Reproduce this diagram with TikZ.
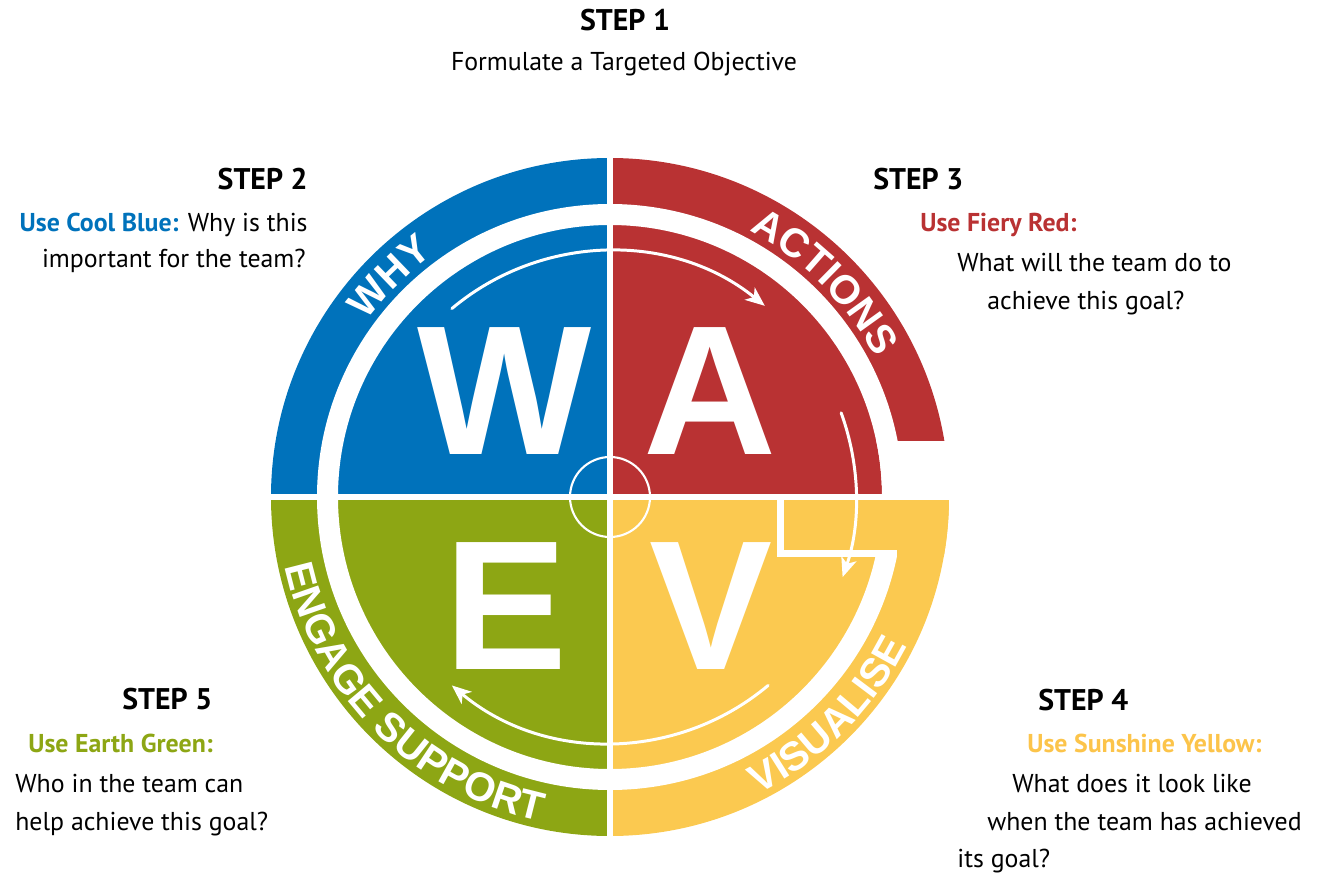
\documentclass[tikz,border=0pt]{standalone}
\usepackage{fontspec}
\setmainfont{PT Sans}
\newfontfamily\arialfont{Liberation Sans}
\usetikzlibrary{arrows.meta,decorations.text}
\definecolor{coolblue}{RGB}{0,114,187}
\definecolor{fieryred}{RGB}{185,50,51}
\definecolor{earthgreen}{RGB}{141,166,20}
\definecolor{sunyellow}{RGB}{251,201,80}
\definecolor{sunyellowtext}{RGB}{252,196,74}
\begin{document}
\begin{tikzpicture}[x=0.02cm,y=0.02cm]
	\tikzset{steptitle/.style = {anchor=base west, inner sep=0pt, font=\fontsize{17}{17}\selectfont\bfseries},
		steptext/.style = {anchor=base west, inner sep=0pt, font=\fontsize{14.7}{15}\selectfont},
		bigletter/.style = {text=white, inner sep=0pt, font=\arialfont\bfseries\fontsize{105}{105}\selectfont},
		ringlabel/.style = {decorate, decoration={text along path, text align=center, text color=white,
			text={|\arialfont\bfseries\fontsize{23}{23}\selectfont|#1}}},
		turn/.style = {draw=white, line width=1.7pt, line cap=round, -{Stealth[length=11pt,width=9pt,inset=3pt]}}}

	\useasboundingbox (-610,-379) rectangle (712,497);

	\fill[coolblue] (0,0) -- (90:339) arc[start angle=90, end angle=180, radius=339] -- cycle;
	\fill[earthgreen] (0,0) -- (180:339) arc[start angle=180, end angle=270, radius=339] -- cycle;
	\fill[sunyellow] (0,0) -- (270:339) arc[start angle=270, end angle=360, radius=339] -- cycle;
	\begin{scope}
		\clip (0,57) rectangle (350,350);
		\fill[fieryred] (0,0) -- (0:339) arc[start angle=0, end angle=90, radius=339] -- cycle;
	\end{scope}
	\fill[fieryred] (0,0) -- (0:272) arc[start angle=0, end angle=90, radius=272] -- cycle;

	\fill[white, even odd rule] (0,0) circle[radius=293] (0,0) circle[radius=272];
	\begin{scope}
		\clip (0,0) circle[radius=339];
		\fill[sunyellow] (0,-3) rectangle (350,-60);
	\end{scope}

	\draw[white, line width=3.2pt] (0,345) -- (0,-345);
	\draw[white, line width=3.2pt] (-345,0) -- (345,0);
	\draw[white, line width=4pt, line join=miter] (170.5,0) -- (170.5,-56.5) -- (287,-56.5);
	\draw[white, line width=1.2pt] (0,0) circle[radius=40];

	\node[bigletter] (W) at (-105,105.5) {W};
	\node[bigletter] (A) at (100,105.5) {A};
	\node[bigletter] (E) at (-103.5,-109) {E};
	\node[bigletter] (V) at (101.5,-109) {V};

	\draw[turn] (130:246) arc[start angle=130, end angle=51, radius=246];
	\draw[turn] (20:246) arc[start angle=20, end angle=-19, radius=246];
	\draw[turn] (-50:246) arc[start angle=-50, end angle=-130, radius=246];

	\path[ringlabel=WHY] (180:300) arc[start angle=180, end angle=90, radius=300];
	\path[ringlabel=ACTIONS] (90:300) arc[start angle=90, end angle=0, radius=300];
	\path[ringlabel=VISUALISE] (270:332) arc[start angle=270, end angle=360, radius=332];
	\path[ringlabel={ENGAGE SUPPORT}] (180:332) arc[start angle=180, end angle=270, radius=332];

	\node[steptitle, anchor=base] (step_1) at (15,466) {STEP 1};
	\node[steptext, anchor=base] (goal_1) at (14,426) {Formulate a Targeted Objective};

	\node[steptitle, anchor=base east] (step_2) at (-302,307) {STEP 2};
	\node[steptext, anchor=base east] (use_2) at (-302,265) {\textbf{\color{coolblue}Use Cool Blue:} Why is this};
	\node[steptext, anchor=base east] (ask_2) at (-304,229) {important for the team?};

	\node[steptitle] (step_3) at (263,307) {STEP 3};
	\node[steptext] (use_3) at (310,265) {\textbf{\color{fieryred}Use Fiery Red:}};
	\node[steptext] (ask_3a) at (347,225) {What will the team do to};
	\node[steptext] (ask_3b) at (377,187) {achieve this goal?};

	\node[steptitle] (step_4) at (428,-213) {STEP 4};
	\node[steptext] (use_4) at (417,-255) {\textbf{\color{sunyellowtext}Use Sunshine Yellow:}};
	\node[steptext] (ask_4a) at (402,-295) {What does it look like};
	\node[steptext] (ask_4b) at (377,-333) {when the team has achieved};
	\node[steptext] (ask_4c) at (347,-370) {its goal?};

	\node[steptitle] (step_5) at (-488,-212) {STEP 5};
	\node[steptext] (use_5) at (-582,-255) {\textbf{\color{earthgreen}Use Earth Green:}};
	\node[steptext] (ask_5a) at (-595,-295) {Who in the team can};
	\node[steptext] (ask_5b) at (-595,-333) {help achieve this goal?};

\end{tikzpicture}
\end{document}
